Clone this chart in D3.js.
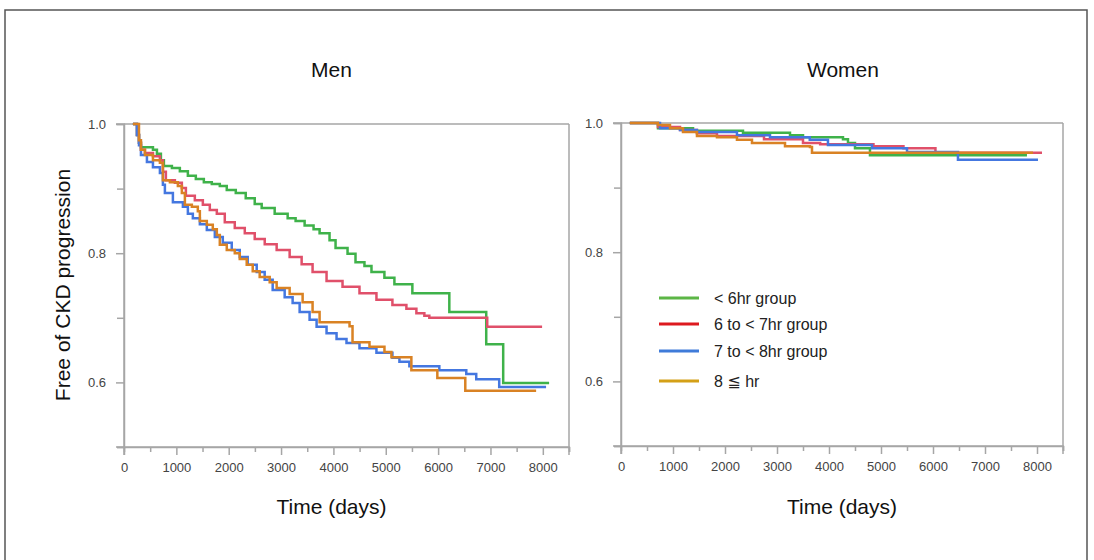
<!DOCTYPE html>
<html>
<head>
<meta charset="utf-8">
<script src="https://cdn.jsdelivr.net/npm/d3@7"></script>
<style>
  html, body { margin: 0; padding: 0; background: #fff; }
  svg { display: block; font-family: "Liberation Sans", Arial, "DejaVu Sans", sans-serif; }
</style>
</head>
<body>
<svg id="chart" width="1094" height="560"></svg>
<script>
// ---------------- DATA ----------------
const groups = ["< 6hr group", "6 to < 7hr group", "7 to < 8hr group", "8 \u2266 hr"];
const panelTitles = ["Men", "Women"];
const xTickValues = [0, 1000, 2000, 3000, 4000, 5000, 6000, 7000, 8000];
const xMinorTicks = [500, 1500, 2500, 3500, 4500, 5500, 6500, 7500, 8500];
const yTickValues = [0.6, 0.8, 1.0];
const yMinorTicks = [0.5, 0.7, 0.9];

// Men — [day, survival] step points; last point = end of follow-up
const menLt6 = [[170,1.0],[248,0.983],[286,0.971],[324,0.964],[553,0.960],[629,0.954],[705,0.944],[762,0.935],[915,0.932],[1067,0.927],[1220,0.920],[1372,0.915],[1525,0.910],[1677,0.907],[1830,0.904],[1963,0.898],[2135,0.893],[2325,0.885],[2497,0.876],[2630,0.870],[2878,0.861],[3126,0.854],[3278,0.850],[3450,0.843],[3621,0.837],[3736,0.831],[3926,0.820],[4041,0.808],[4270,0.799],[4422,0.786],[4593,0.780],[4727,0.771],[4974,0.762],[5165,0.752],[5508,0.738],[6214,0.709],[6919,0.659],[7243,0.599],[8120,0.599]];
const men6to7 = [[170,1.0],[248,0.983],[286,0.971],[324,0.960],[400,0.955],[553,0.950],[686,0.944],[743,0.926],[800,0.913],[972,0.909],[1105,0.901],[1182,0.889],[1353,0.882],[1506,0.875],[1639,0.867],[1773,0.861],[1925,0.848],[2116,0.839],[2307,0.831],[2497,0.822],[2688,0.814],[2916,0.805],[3164,0.794],[3393,0.783],[3602,0.771],[3869,0.757],[4174,0.748],[4498,0.738],[4822,0.728],[5127,0.720],[5394,0.714],[5585,0.707],[5737,0.703],[5832,0.700],[6938,0.686],[7986,0.686]];
const men7to8 = [[170,1.0],[248,0.983],[286,0.967],[324,0.952],[438,0.941],[553,0.933],[686,0.924],[743,0.906],[781,0.893],[934,0.879],[1125,0.872],[1220,0.861],[1315,0.854],[1449,0.845],[1582,0.836],[1735,0.825],[1887,0.816],[2058,0.805],[2211,0.794],[2363,0.782],[2535,0.771],[2687,0.759],[2840,0.743],[3069,0.732],[3221,0.723],[3355,0.709],[3545,0.697],[3679,0.686],[3869,0.676],[4060,0.667],[4250,0.661],[4498,0.653],[4822,0.646],[5127,0.638],[5261,0.632],[5451,0.625],[6023,0.619],[6538,0.613],[6728,0.605],[7167,0.593],[8062,0.593]];
const menGe8 = [[170,1.0],[286,0.975],[324,0.960],[400,0.952],[553,0.944],[686,0.940],[743,0.913],[877,0.910],[1029,0.904],[1105,0.893],[1163,0.875],[1296,0.872],[1410,0.865],[1449,0.850],[1582,0.844],[1696,0.837],[1773,0.828],[1830,0.813],[1963,0.805],[2116,0.800],[2211,0.791],[2344,0.782],[2459,0.772],[2592,0.763],[2783,0.755],[2916,0.746],[3164,0.737],[3412,0.724],[3602,0.709],[3736,0.693],[4308,0.687],[4365,0.662],[4689,0.655],[4975,0.647],[5108,0.639],[5489,0.619],[5985,0.607],[6519,0.587],[7872,0.587]];

// Women
const womenLt6 = [[170,1.0],[711,0.992],[1385,0.988],[2346,0.985],[3250,0.981],[3500,0.978],[4269,0.975],[4365,0.969],[4500,0.961],[4788,0.950],[7807,0.950]];
const women6to7 = [[170,1.0],[711,0.994],[1135,0.989],[1460,0.984],[1845,0.980],[2750,0.975],[3500,0.969],[3830,0.967],[4855,0.964],[5432,0.961],[6047,0.954],[8096,0.954]];
const women7to8 = [[170,1.0],[750,0.992],[1135,0.989],[1460,0.986],[2230,0.981],[2865,0.978],[3630,0.974],[3980,0.966],[4827,0.961],[5500,0.955],[6480,0.943],[8019,0.943]];
const womenGe8 = [[170,1.0],[711,0.997],[942,0.992],[1192,0.986],[1461,0.980],[1846,0.978],[2230,0.974],[2519,0.969],[3154,0.964],[3634,0.963],[3673,0.954],[7923,0.954]];

const lineColors = ["#3fb24a", "#e0506a", "#4477e0", "#d98224"];
const legendColors = ["#5cb646", "#dd1a1f", "#3f7bd9", "#d4a017"];

// ---------------- DRAW ----------------
const svg = d3.select("#chart");

// outer frame
svg.append("rect").attr("x", 5).attr("y", 10).attr("width", 1082).attr("height", 560)
  .attr("fill", "none").attr("stroke", "#555").attr("stroke-width", 1.5);

const panels = [
  { title: panelTitles[0], left: 124, right: 569, top: 124, bottom: 447, series: [menLt6, men6to7, men7to8, menGe8] },
  { title: panelTitles[1], left: 621, right: 1063, top: 123, bottom: 446, series: [womenLt6, women6to7, women7to8, womenGe8] }
];

const axisColor = "#a6a6a6";

panels.forEach((p, pi) => {
  const x = d3.scaleLinear().domain([0, 8500]).range([p.left, p.right]);
  const y = d3.scaleLinear().domain([0.5, 1.0]).range([p.bottom, p.top]);
  const g = svg.append("g");

  // frame top and right
  g.append("line").attr("x1", p.left).attr("x2", p.right).attr("y1", p.top).attr("y2", p.top)
    .attr("stroke", axisColor).attr("stroke-width", 1.5);
  g.append("line").attr("x1", p.right).attr("x2", p.right).attr("y1", p.top).attr("y2", p.bottom)
    .attr("stroke", axisColor).attr("stroke-width", 1.5);

  const yAx = g.append("g").attr("transform", `translate(${p.left},0)`)
    .call(d3.axisLeft(y).tickValues(yTickValues).tickSize(8).tickPadding(10).tickFormat(d3.format(".1f")));
  const yMin = g.append("g").attr("transform", `translate(${p.left},0)`)
    .call(d3.axisLeft(y).tickValues(yMinorTicks).tickSize(7).tickFormat(""));
  const xAx = g.append("g").attr("transform", `translate(0,${p.bottom})`)
    .call(d3.axisBottom(x).tickValues(xTickValues).tickSize(8).tickPadding(8).tickFormat(d3.format("d")));
  const xMin = g.append("g").attr("transform", `translate(0,${p.bottom})`)
    .call(d3.axisBottom(x).tickValues(xMinorTicks).tickSize(5).tickFormat(""));

  [yAx, yMin, xAx, xMin].forEach(a => {
    a.select(".domain").attr("stroke", axisColor).attr("stroke-width", 1.5);
    a.selectAll(".tick line").attr("stroke", axisColor).attr("stroke-width", 1.5);
    a.selectAll(".tick text").attr("fill", "#444").attr("font-size", 13)
      .attr("font-family", "'Liberation Sans', Arial, sans-serif");
  });
  xAx.select(".domain").attr("d", `M${p.left},8V0H${p.right}V8`);
  yAx.select(".domain").attr("d", `M-8,${p.bottom}H0V${p.top}H-8`);

  // title
  svg.append("text").attr("x", (p.left + p.right) / 2 + (pi === 0 ? -15 : 1)).attr("y", 77)
    .attr("text-anchor", "middle").attr("font-size", 21).attr("fill", "#111").text(p.title);
  // x label
  svg.append("text").attr("x", (p.left + p.right) / 2 - (pi === 0 ? 15 : 0)).attr("y", 514)
    .attr("text-anchor", "middle").attr("font-size", 21).attr("fill", "#111").text("Time (days)");

  // curves
  const line = d3.line().x(d => x(d[0])).y(d => y(d[1])).curve(d3.curveStepAfter);
  p.series.forEach((s, i) => {
    g.append("path").datum(s).attr("d", line).attr("fill", "none")
      .attr("stroke", lineColors[i]).attr("stroke-width", 2.5).attr("stroke-linejoin", "miter");
  });

  if (pi === 1) {
    const legendY = [298, 324, 351, 381];
    groups.forEach((name, i) => {
      g.append("line").attr("x1", 659).attr("x2", 699).attr("y1", legendY[i]).attr("y2", legendY[i])
        .attr("stroke", legendColors[i]).attr("stroke-width", 3);
      g.append("text").attr("x", 714).attr("y", legendY[i]).attr("dy", "0.35em")
        .attr("font-size", 16).attr("fill", "#222").text(name);
    });
  }
});

// y axis label
svg.append("text").attr("transform", "translate(70,285) rotate(-90)")
  .attr("text-anchor", "middle").attr("font-size", 21).attr("fill", "#111").text("Free of CKD progression");
</script>
</body>
</html>
